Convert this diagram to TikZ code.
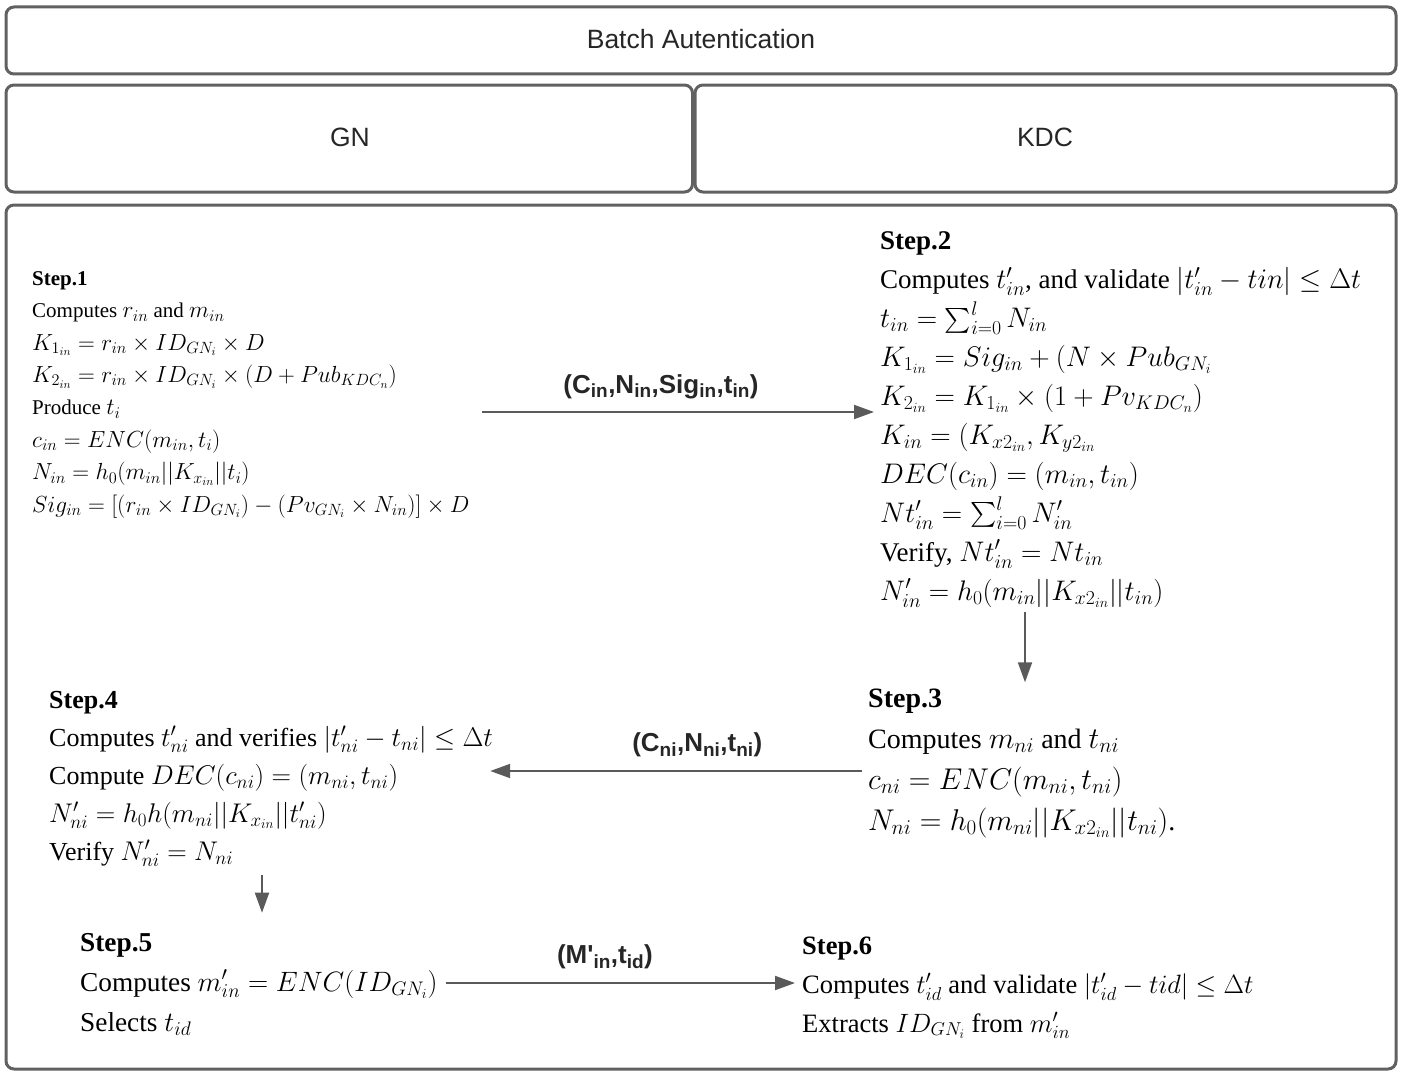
\RequirePackage{fix-cm}
\documentclass[tikz,border=0pt]{standalone}
\usepackage{exscale}
\usepackage{fontspec}
\setmainfont{Liberation Serif}
\newfontfamily\headfont{Liberation Sans}
\usetikzlibrary{arrows.meta,calc}
% math set slightly larger than the surrounding text in each block
\DeclareMathSizes{21}{23.3}{16.3}{11.6}
\DeclareMathSizes{27}{28.3}{19.8}{14.1}
\DeclareMathSizes{28}{30}{21}{15}
\DeclareMathSizes{26}{27}{19}{13.5}
\DeclareMathSizes{27.3}{28}{19.6}{14}
\DeclareMathSizes{26.5}{26.5}{18.6}{13.2}
\definecolor{frame}{HTML}{616161}
\definecolor{wire}{HTML}{5A5A5A}
\tikzset{
  panel/.style={draw=frame, line width=3pt, rounded corners=8pt},
  header/.style={font=\headfont\fontsize{26.5}{30}\selectfont, text=black!85},
  stepbox/.style={align=left, anchor=base west, inner sep=0pt},
  msg/.style={font=\headfont\bfseries\fontsize{26}{30}\selectfont, text=black!85,
    inner sep=0pt},
  arr/.style={draw=wire, line width=2pt, -{Triangle[length=20pt,width=14pt]}},
}
\begin{document}
\begin{tikzpicture}[x=1pt,y=-1pt]
\useasboundingbox (0,0) rectangle (1408,1073);

% frames
\draw[panel] (6,7) rectangle (1396,74);
\draw[panel] (6,85) rectangle (692.5,192);
\draw[panel] (695,85) rectangle (1396,192);
\draw[panel] (6,205) rectangle (1396,1069);

\node[header] (title) at (701,39) {Batch Autentication};
\node[header] (gn) at (350,137) {GN};
\node[header] (kdc) at (1045,137) {KDC};

% step 1 (anchored at the baseline of its last line)
\node[stepbox, font=\fontsize{21}{32.4}\selectfont] (s1) at (32,512) {\textbf{Step.1}\\
Computes $r_{in}$ and $m_{in}$\\
$K_{1_{in}} = r_{in} \times ID_{GN_i} \times D$\\
$K_{2_{in}} = r_{in} \times ID_{GN_i} \times (D + Pub_{KDC_n})$\\
Produce $t_i$\\
$c_{in} = ENC(m_{in}, t_i)$\\
$N_{in} = h_0(m_{in}||K_{x_{in}}||t_i)$\\
$Sig_{in} = [(r_{in} \times ID_{GN_i}) - (Pv_{GN_i} \times N_{in})] \times D$};

% step 2
\node[stepbox, font=\fontsize{27}{38.9}\selectfont] (s2) at (880,600) {\textbf{Step.2}\\
Computes $t'_{in}$, and validate $|t'_{in} - tin| \leq \Delta t$\\
$t_{in} = \sum_{i=0}^{l} N_{in}$\\
$K_{1_{in}} = Sig_{in} + (N \times Pub_{GN_i}$\\
$K_{2_{in}} = K_{1_{in}} \times (1 + Pv_{KDC_n})$\\
$K_{in} = (K_{x2_{in}}, K_{y2_{in}}$\\
$DEC(c_{in}) = (m_{in}, t_{in})$\\
$Nt'_{in} = \sum_{i=0}^{l} N'_{in}$\\
Verify, $Nt'_{in} = Nt_{in}$\\
$N'_{in} = h_0(m_{in}||K_{x2_{in}}||t_{in})$};

% step 3
\node[stepbox, font=\fontsize{28}{41}\selectfont] (s3) at (868,830) {\textbf{Step.3}\\
Computes $m_{ni}$ and $t_{ni}$\\
$c_{ni} = ENC(m_{ni}, t_{ni})$\\
$N_{ni} = h_0(m_{ni}||K_{x2_{in}}||t_{ni})$.};

% step 4
\node[stepbox, font=\fontsize{26}{38}\selectfont] (s4) at (49,860) {\textbf{Step.4}\\
Computes $t'_{ni}$ and verifies $|t'_{ni} - t_{ni}| \leq \Delta t$\\
Compute $DEC(c_{ni}) = (m_{ni}, t_{ni})$\\
$N'_{ni} = h_0h(m_{ni}||K_{x_{in}}||t'_{ni})$\\
Verify $N'_{ni} = N_{ni}$};

% step 5
\node[stepbox, font=\fontsize{27.3}{40}\selectfont] (s5) at (80,1031) {\textbf{Step.5}\\
Computes $m'_{in} = ENC(ID_{GN_i})$\\
Selects $t_{id}$};

% step 6
\node[stepbox, font=\fontsize{26.5}{39}\selectfont] (s6) at (802,1032) {\textbf{Step.6}\\
Computes $t'_{id}$ and validate $|t'_{id} - tid| \leq \Delta t$\\
Extracts $ID_{GN_i}$ from $m'_{in}$};

% connector start points
\coordinate (c1) at ($(s1.east |- 0,412)+(12,0)$);
\coordinate (c2) at (1025,612);
\coordinate (c3) at (862,771);
\coordinate (c4) at (262,875);
\coordinate (c5) at ($(s5.east |- 0,983)+(8,0)$);

% messages and flow
\draw[arr] (c1) -- ($(c1 -| s2.west)+(-6,0)$)
  node[msg, pos=0.457, above=12pt] (l1)
  {(C\textsubscript{in},N\textsubscript{in},Sig\textsubscript{in},t\textsubscript{in})};
\draw[arr] (c2) -- ($(c2 |- s3.north)+(0,-6)$);
\draw[arr] (c3) -- ($(c3 -| s4.east)+(-3,0)$)
  node[msg, pos=0.443, above=13pt] (l2)
  {(C\textsubscript{ni},N\textsubscript{ni},t\textsubscript{ni})};
\draw[arr] (c4) -- ($(c4 |- s5.north)+(0,-20)$);
\draw[arr] (c5) -- ($(c5 -| s6.west)+(-7,0)$)
  node[msg, pos=0.456, above=13pt] (l3)
  {(M'\textsubscript{in},t\textsubscript{id})};
\end{tikzpicture}
\end{document}
